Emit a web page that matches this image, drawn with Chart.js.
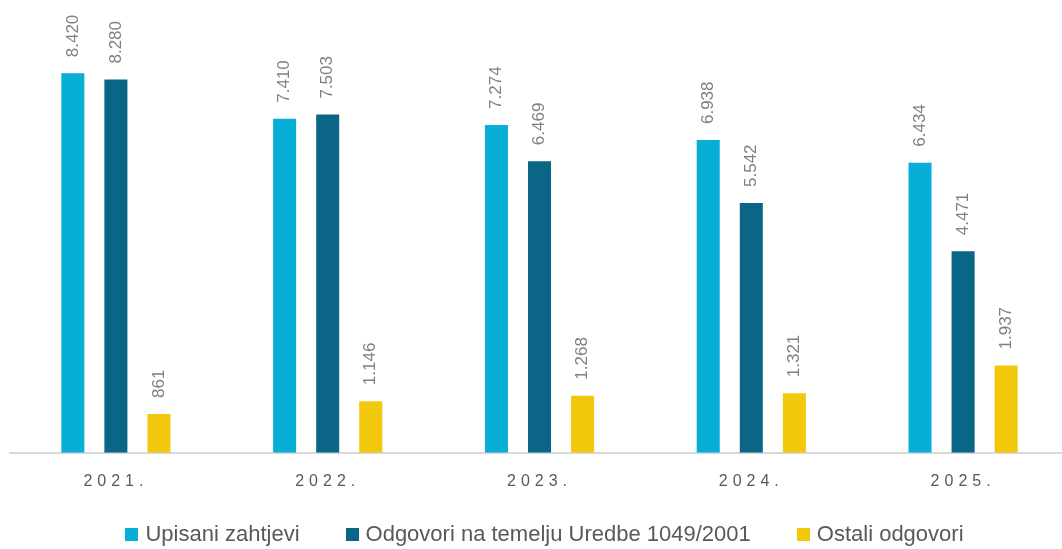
<!DOCTYPE html>
<html>
<head>
<meta charset="utf-8">
<script src="https://cdn.jsdelivr.net/npm/chart.js@4.4.1/dist/chart.umd.min.js"></script>
<style>
  html, body { margin: 0; padding: 0; background: #fff; overflow: hidden; }
  #wrap { position: relative; width: 1062px; height: 549px; overflow: hidden; }
  #box { position: absolute; left: 0; top: 0; width: 1069px; height: 528px; }
  #legend {
    position: absolute; left: 0; top: 520px; width: 1062px; height: 28px;
    box-sizing: border-box; padding-left: 27px;
    display: flex; justify-content: center; align-items: center;
    font-family: "Liberation Sans", Arial, sans-serif; font-size: 22px; color: #595959;
  }
  .item { display: flex; align-items: center; margin: 0 23px; white-space: nowrap; }
  .sw { width: 13px; height: 13px; margin-right: 7px; }
</style>
</head>
<body>
<div id="wrap">
  <div id="box"><canvas id="summaryChart"></canvas></div>
  <div id="legend"></div>
</div>
<script>
const labels = ["2021.", "2022.", "2023.", "2024.", "2025."];
const upisani = [8420, 7410, 7274, 6938, 6434];
const odgovoriUredba = [8280, 7503, 6469, 5542, 4471];
const ostali = [861, 1146, 1268, 1321, 1937];

const seriesNames = [
  "Upisani zahtjevi",
  "Odgovori na temelju Uredbe 1049/2001",
  "Ostali odgovori",
];
const colors = ["#07aed6", "#0b6586", "#f2c80d"];

function formatHR(value) {
  return String(value).replace(/\B(?=(\d{3})+(?!\d))/g, ".");
}

// vrijednosti iznad stupaca, okrenute okomito
const valueLabels = {
  id: "valueLabels",
  afterDatasetsDraw(chart) {
    const ctx = chart.ctx;
    ctx.save();
    ctx.font = '17px "Liberation Sans", Arial, sans-serif';
    ctx.fillStyle = "#808080";
    ctx.textAlign = "left";
    ctx.textBaseline = "middle";
    chart.data.datasets.forEach((ds, i) => {
      chart.getDatasetMeta(i).data.forEach((bar, j) => {
        ctx.save();
        ctx.translate(bar.x, bar.y - 16);
        ctx.rotate(-Math.PI / 2);
        ctx.fillText(formatHR(ds.data[j]), 0, 0);
        ctx.restore();
      });
    });
    ctx.restore();
  },
};

// oznake godina s razmakom između slova
const spacedTicks = {
  id: "spacedTicks",
  afterDraw(chart) {
    const ctx = chart.ctx;
    const x = chart.scales.x;
    ctx.save();
    ctx.font = '16px "Liberation Sans", Arial, sans-serif';
    ctx.fillStyle = "#595959";
    ctx.textAlign = "center";
    ctx.textBaseline = "middle";
    ctx.letterSpacing = "5px";
    labels.forEach((lab, i) => {
      ctx.fillText(lab, x.getPixelForTick(i), chart.chartArea.bottom + 29);
    });
    ctx.restore();
  },
};

const ctx = document.getElementById("summaryChart").getContext("2d");

new Chart(ctx, {
  type: "bar",
  data: {
    labels: labels,
    datasets: [upisani, odgovoriUredba, ostali].map((data, i) => ({
      label: seriesNames[i],
      data: data,
      backgroundColor: colors[i],
      borderWidth: 0,
      barPercentage: 0.535,
      categoryPercentage: 0.61,
    })),
  },
  options: {
    responsive: true,
    maintainAspectRatio: false,
    animation: false,
    layout: {
      padding: { left: 10, right: 0, top: 2, bottom: 8 },
    },
    plugins: {
      legend: { display: false },
      tooltip: { enabled: false },
    },
    scales: {
      x: {
        grid: { display: false },
        border: { display: true, color: "#d9d9d9", width: 2 },
        ticks: {
          color: "transparent",
          padding: 20,
          font: { size: 16, family: '"Liberation Sans", Arial, sans-serif' },
        },
      },
      y: {
        display: false,
        min: 0,
        max: 10000,
      },
    },
  },
  plugins: [valueLabels, spacedTicks],
});

// legenda
const legend = document.getElementById("legend");
seriesNames.forEach((name, i) => {
  const item = document.createElement("div");
  item.className = "item";
  const sw = document.createElement("span");
  sw.className = "sw";
  sw.style.background = colors[i];
  const txt = document.createElement("span");
  txt.innerText = name;
  item.appendChild(sw);
  item.appendChild(txt);
  legend.appendChild(item);
});
</script>
</body>
</html>
